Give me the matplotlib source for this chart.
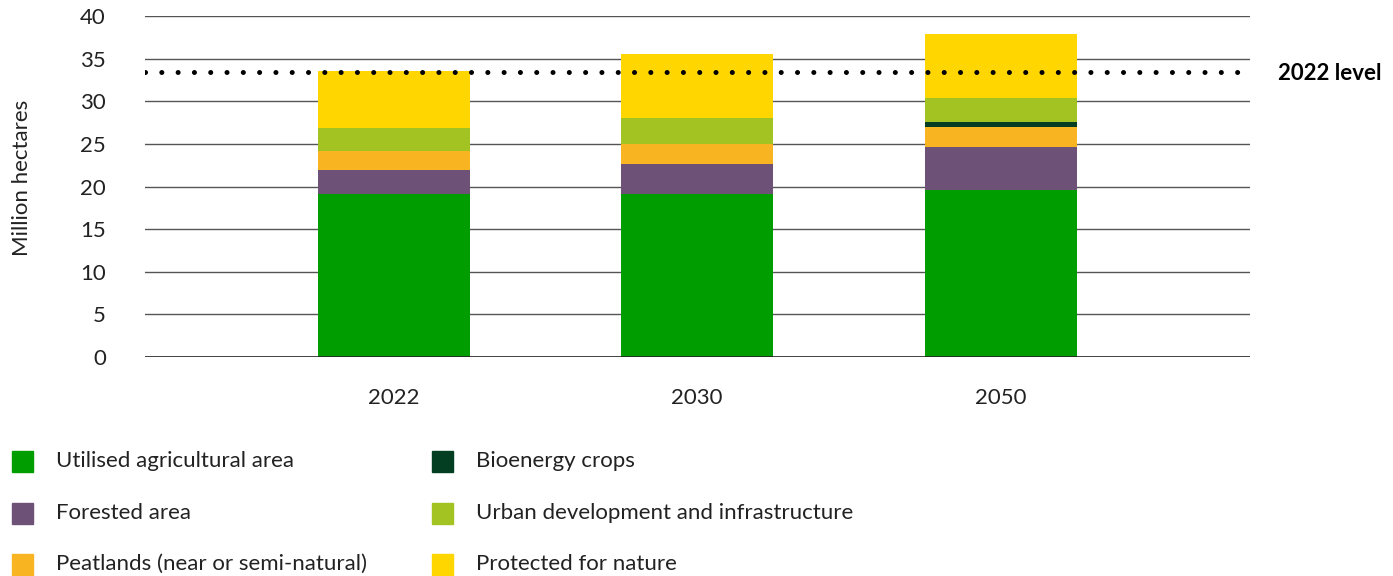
import numpy as np
import matplotlib
matplotlib.use("Agg")
import matplotlib.pyplot as plt
from matplotlib.patches import Rectangle

plt.rcParams["font.family"] = ["Lato", "DejaVu Sans"]

# Datos (millones de hectáreas)
years = ["2022", "2030", "2050"]
categories = ["Utilised agricultural area", "Forested area", "Peatlands (near or semi-natural)",
              "Bioenergy crops", "Urban development and infrastructure", "Protected for nature"]
agricultural = [19.15, 19.1, 19.6]
forested = [2.8, 3.5, 5.05]
peatlands = [2.2, 2.45, 2.35]
bioenergy = [0.0, 0.0, 0.6]
urban = [2.7, 2.95, 2.8]
protected = [6.7, 7.5, 7.5]
level_2022 = 33.45

colors = ["#009D00", "#6D5177", "#F9B421", "#033E22", "#A2C322", "#FFD600"]
series = [agricultural, forested, peatlands, bioenergy, urban, protected]

fig = plt.figure(figsize=(13.93, 5.76), dpi=100)
ax = fig.add_axes([0.104, 0.380, 0.793, 0.592])

x = np.arange(len(years))
bottom = np.zeros(len(years))
for vals, c, lab in zip(series, colors, categories):
    ax.bar(x, vals, width=0.5, bottom=bottom, color=c, label=lab, zorder=3)
    bottom += np.array(vals)

# Rejilla
for yv in range(5, 45, 5):
    ax.axhline(yv, color="#555555", lw=1.0, zorder=1)
ax.axhline(0, color="#222222", lw=1.2, zorder=4)

# Línea de nivel 2022
ax.axhline(level_2022, color="black", lw=3.6, linestyle=(0, (0.01, 3.25)),
           dash_capstyle="round", zorder=5)
ax.text(1.026, level_2022 - 0.2, "2022 level", transform=ax.get_yaxis_transform(),
        fontsize=16, fontweight="bold", va="center", ha="left", color="black")

ax.set_xlim(-0.82, 2.82)
ax.set_ylim(0, 40)
ax.set_yticks(range(0, 45, 5))
ax.set_xticks(x)
ax.set_xticklabels(years)
ax.tick_params(axis="both", length=0, labelsize=16, labelcolor="#222222")
ax.tick_params(axis="y", pad=28)
ax.tick_params(axis="x", pad=22)
for s in ax.spines.values():
    s.set_visible(False)
ax.set_ylabel("Million hectares", fontsize=16, color="#222222")
ax.yaxis.set_label_coords(-0.102, 0.525)

# Leyenda manual
W, H = 1393, 576
col_x = [12, 432]
row_y = [461, 513, 564]
for i, (lab, c) in enumerate(zip(categories, colors)):
    cx = col_x[i // 3]
    cy = row_y[i % 3]
    fig.patches.append(Rectangle((cx / W, 1 - (cy + 10.5) / H), 21 / W, 21 / H,
                                 transform=fig.transFigure, color=c))
    fig.text((cx + 44) / W, 1 - cy / H, lab, fontsize=16, va="center", ha="left", color="#222222")

fig.savefig("out.png", dpi=100)
